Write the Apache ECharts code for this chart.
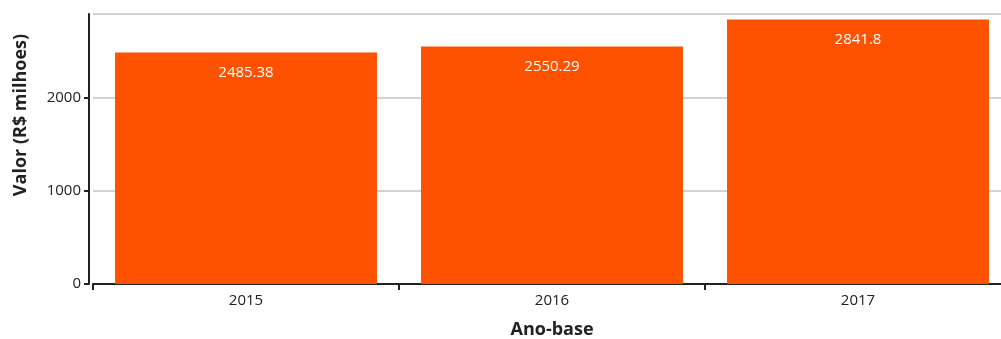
<!DOCTYPE html>
<html>
<head>
<meta charset="utf-8">
<style>
  html, body { margin: 0; padding: 0; background: #fff; }
  #main { width: 1001px; height: 339px; }
</style>
<script src="https://cdn.jsdelivr.net/npm/echarts@6/dist/echarts.min.js"></script>
</head>
<body>
<div id="main"></div>
<script>
// dados
var anos = ["2015", "2016", "2017"];
var valores = [2485.38, 2550.29, 2841.8];

var myChart = echarts.init(document.getElementById("main"));
var fonte = "Open Sans";

var option = {
  animation: false,
  grid: {
    left: 93,
    right: -10,
    top: 14,
    bottom: 55,
    outerBoundsMode: "none",
  },
  xAxis: {
    type: "category",
    data: anos,
    name: "Ano-base",
    nameLocation: "middle",
    nameGap: 37,
    nameTextStyle: { fontFamily: fonte, fontSize: 18, fontWeight: "bold", color: "#222" },
    axisLine: { lineStyle: { color: "#222", width: 2 } },
    axisTick: { show: true, alignWithLabel: false, length: 6, lineStyle: { color: "#222", width: 2 } },
    axisLabel: { fontFamily: fonte, fontSize: 15, color: "#222", margin: 9 },
  },
  yAxis: {
    type: "value",
    min: 0,
    max: 2900,
    interval: 1000,
    offset: 4,
    name: "Valor (R$ milhoes)",
    nameLocation: "middle",
    nameGap: 59,
    nameTextStyle: { fontFamily: fonte, fontSize: 18, fontWeight: "bold", color: "#222", padding: [0, 0, 0, 68] },
    axisLine: { show: true, lineStyle: { color: "#222", width: 2 } },
    axisTick: { show: true, length: 5, lineStyle: { color: "#222", width: 2 } },
    axisLabel: {
      fontFamily: fonte, fontSize: 15, color: "#222", margin: 8, showMaxLabel: false,
      formatter: function (v) { return String(v); },
    },
    splitLine: { lineStyle: { color: "#c4c4c4", width: 1.5 } },
  },
  series: [
    {
      type: "bar",
      data: valores,
      barCategoryGap: "14.4%",
      itemStyle: { color: "#ff5200" },
      label: {
        show: true,
        position: "insideTop",
        distance: 13,
        color: "#fff",
        fontFamily: fonte,
        fontSize: 15,
      },
    },
  ],
};

option && myChart.setOption(option);
</script>
</body>
</html>
